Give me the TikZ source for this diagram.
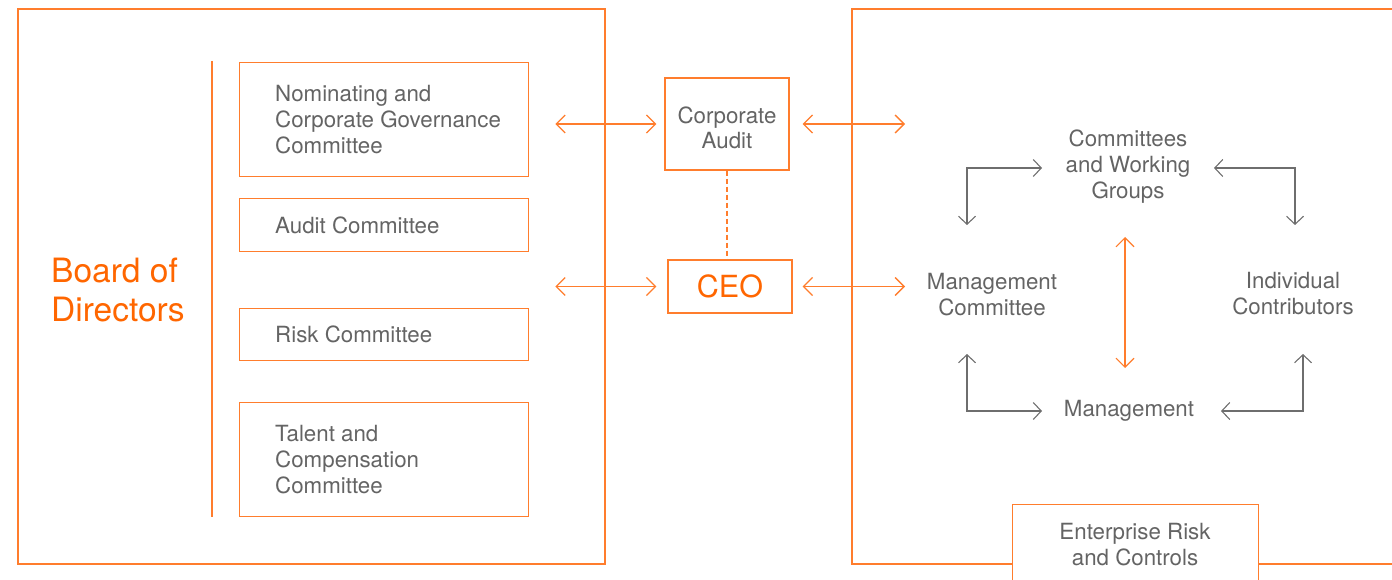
\documentclass[tikz,border=0pt]{standalone}
\usepackage{fontspec}
\setmainfont{TeX Gyre Heros}
\usetikzlibrary{arrows.meta}
\definecolor{org}{RGB}{255,125,45}
\definecolor{orgtxt}{RGB}{255,102,0}
\definecolor{gtxt}{RGB}{100,100,100}
\definecolor{garr}{RGB}{110,110,110}
\tikzset{
  obox/.style={draw=org, line width=1.3pt, fill=white, anchor=north west, inner sep=0pt, minimum width=289pt},
  btxt/.style={text=gtxt, font=\fontsize{22.3}{26}\selectfont, align=left, anchor=west, inner sep=0pt},
  cbox/.style={draw=org, line width=1.3pt, fill=white, inner sep=0pt, align=center},
  lbl/.style={text=gtxt, font=\fontsize{22.3}{26}\selectfont, align=center, inner sep=0pt},
  oarr/.style={draw=org, line width=1.3pt, {Straight Barb[length=9pt,width=18pt]}-{Straight Barb[length=9pt,width=18pt]}},
  garrow/.style={draw=garr, line width=1.1pt, {Straight Barb[length=8pt,width=17pt]}-{Straight Barb[length=8pt,width=17pt]}},
  frame/.style={draw=org, line width=1.3pt}
}
\begin{document}
\begin{tikzpicture}[x=1pt,y=-1pt]
\useasboundingbox (0,0) rectangle (1392,580);
% left frame
\draw[frame] (18,9) rectangle (605,564);
\draw[frame] (212,61) -- (212,517);
\node[text=orgtxt, font=\fontsize{33.5}{39}\selectfont, align=left, anchor=west, inner sep=0pt] (bod) at (51,290) {Board of\\Directors};
\node[obox, minimum height=114pt] (nom) at (239,62) {};
\node[btxt] (nomt) at ([xshift=36pt]nom.west) {Nominating and\\Corporate Governance\\Committee};
\node[obox, minimum height=53pt] (aud) at (239,198) {};
\node[btxt] (audt) at ([xshift=36pt]aud.west) {Audit Committee};
\node[obox, minimum height=52pt] (risk) at (239,308) {};
\node[btxt] (riskt) at ([xshift=36pt]risk.west) {Risk Committee};
\node[obox, minimum height=114pt] (tal) at (239,402) {};
\node[btxt] (talt) at ([xshift=36pt]tal.west) {Talent and\\Compensation\\Committee};
% middle
\node[cbox, minimum width=124pt, minimum height=92pt] (ca) at (727,124) {};
\node[lbl, font=\fontsize{22.3}{25}\selectfont] (cat) at ([yshift=-4pt]ca.center) {Corporate\\Audit};
\node[cbox, minimum width=124pt, minimum height=53pt, text=orgtxt, font=\fontsize{30.5}{32}\selectfont] (ceo) at (730,286.5) {CEO};
\draw[frame, dash pattern=on 5pt off 3pt] (ca.south) -- (ca.south |- ceo.north);
% right frame
\draw[frame] (1400,9) -- (852,9) -- (852,564) -- (1400,564);
\node[draw=org, line width=1.3pt, fill=white, minimum width=246pt, minimum height=90pt, anchor=north west, inner sep=0pt] (erbox) at (1012,504) {};
\node[lbl] (erc) at (1135,545) {Enterprise Risk\\and Controls};
\fill[white] (1005,581) rectangle (1265,600);
% horizontal arrows
\coordinate (rl) at (905,0);
\draw[oarr] ([xshift=26pt]nom.east |- ca.west) -- ([xshift=-8pt]ca.west);
\draw[oarr] ([xshift=13pt]ca.east) -- (rl |- ca.east);
\draw[oarr] ([xshift=26pt]nom.east |- ceo.west) -- ([xshift=-11pt]ceo.west);
\draw[oarr] ([xshift=10pt]ceo.east) -- (rl |- ceo.east);
% right inner texts
\node[lbl] (cwg) at (1128,167) {Committees\\and Working\\Groups};
\node[lbl] (mc) at (992,295) {Management\\Committee};
\node[lbl] (ic) at (1293,294) {Individual\\Contributors};
\node[lbl] (mg) at (1129,411) {Management};
% gray arrows
\coordinate (a1) at (1042,168); \coordinate (a2) at (967,225);
\coordinate (b1) at (1214,168); \coordinate (b2) at (1295,225);
\coordinate (c1) at (967,354); \coordinate (c2) at (1042,411);
\coordinate (d1) at (1221,411); \coordinate (d2) at (1303,354);
\draw[garrow] (a1) -| (a2);
\draw[garrow] (b1) -| (b2);
\draw[garrow] (c1) |- (c2);
\draw[garrow] (d1) -| (d2);
\draw[oarr, line width=1.1pt] (1125,237) -- (1125,368);
\end{tikzpicture}
\end{document}
